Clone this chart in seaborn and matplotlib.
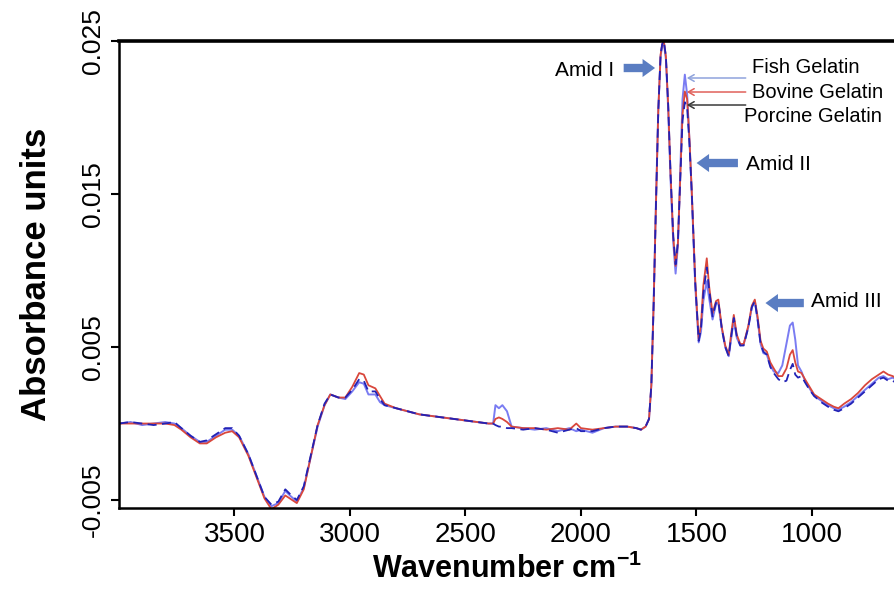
import matplotlib
matplotlib.use("Agg")
import matplotlib.pyplot as plt
import seaborn as sns
import pandas as pd
import numpy as np

# ---------------- data ----------------
wavenumber = [4000, 3950, 3900, 3850, 3800, 3760, 3730, 3690, 3650, 3620, 3580, 3540, 3510,
              3480, 3440, 3400, 3370, 3340, 3310, 3280, 3260, 3230, 3200, 3170, 3140, 3110,
              3085, 3050, 3020, 2990, 2960, 2940, 2920, 2890, 2870, 2850, 2800, 2750, 2700,
              2650, 2600, 2550, 2500, 2450, 2400, 2380, 2370, 2355, 2340, 2320, 2300, 2250,
              2200, 2150, 2100, 2050, 2020, 2000, 1950, 1900, 1850, 1800, 1760, 1740, 1720,
              1705, 1695, 1685, 1675, 1665, 1655, 1648, 1641, 1632, 1622, 1612, 1600, 1590,
              1580, 1570, 1560, 1550, 1540, 1530, 1520, 1505, 1490, 1480, 1470, 1455, 1445,
              1430, 1415, 1405, 1390, 1375, 1360, 1350, 1338, 1325, 1310, 1295, 1275, 1260,
              1247, 1235, 1222, 1210, 1195, 1180, 1165, 1145, 1128, 1110, 1095, 1083, 1072,
              1060, 1045, 1030, 1010, 990, 960, 930, 905, 885, 860, 830, 800, 770, 740, 710,
              690, 670, 650, 640]

fish = [0.0000, 0.0001, -0.0001, 0.0000, 0.0001, 0.0000, -0.0003, -0.0008, -0.0012, -0.0012,
        -0.0008, -0.0004, -0.0004, -0.0008, -0.0020, -0.0036, -0.0048, -0.0054, -0.0052,
        -0.0044, -0.0047, -0.0051, -0.0042, -0.0022, -0.0002, 0.0012, 0.0019, 0.0017, 0.0016,
        0.0021, 0.0027, 0.0026, 0.0019, 0.0019, 0.0014, 0.0012, 0.0010, 0.0008, 0.0006,
        0.0005, 0.0004, 0.0003, 0.0002, 0.0001, 0.0000, 0.0000, 0.0012, 0.0010, 0.0012,
        0.0008, -0.0002, -0.0003, -0.0004, -0.0003, -0.0005, -0.0003, -0.0005, -0.0004,
        -0.0006, -0.0003, -0.0002, -0.0002, -0.0003, -0.0004, -0.0002,
        0.0003, 0.0025, 0.0080, 0.0145, 0.0205, 0.0240, 0.0247, 0.0249, 0.0238, 0.0205,
        0.0160, 0.0118, 0.0098, 0.0116, 0.0165, 0.0212, 0.0228, 0.0215, 0.0185, 0.0150,
        0.0090, 0.0053, 0.0060, 0.0080, 0.0093, 0.0082, 0.0068, 0.0078, 0.0079, 0.0062,
        0.0050, 0.0044, 0.0055, 0.0068, 0.0056, 0.0051, 0.0052, 0.0063, 0.0076, 0.0080,
        0.0068, 0.0052, 0.0046, 0.0045, 0.0038, 0.0034, 0.0033, 0.0038, 0.0052, 0.0064,
        0.0066, 0.0055, 0.0038, 0.0034, 0.0028, 0.0023, 0.0018, 0.0015, 0.0012, 0.0010,
        0.0009, 0.0011, 0.0014, 0.0018, 0.0022, 0.0026, 0.0030, 0.0031, 0.0029, 0.0030,
        0.0029]

bovine = [0.0000, 0.0000, 0.0000, 0.0000, 0.0000, -0.0001, -0.0004, -0.0009, -0.0013, -0.0013,
          -0.0009, -0.0006, -0.0005, -0.0009, -0.0021, -0.0037, -0.0049, -0.0056, -0.0053,
          -0.0047, -0.0049, -0.0052, -0.0043, -0.0022, -0.0001, 0.0012, 0.0019, 0.0017, 0.0017,
          0.0024, 0.0033, 0.0032, 0.0025, 0.0023, 0.0018, 0.0013, 0.0010, 0.0008, 0.0006,
          0.0005, 0.0004, 0.0003, 0.0002, 0.0001, 0.0000, 0.0000, 0.0003, 0.0004, 0.0003,
          0.0001, -0.0002, -0.0003, -0.0003, -0.0004, -0.0003, -0.0004, 0.0000, -0.0003,
          -0.0004, -0.0003, -0.0002, -0.0002, -0.0003, -0.0004, -0.0002,
          0.0003, 0.0025, 0.0078, 0.0143, 0.0204, 0.0241, 0.0248, 0.0250, 0.0240, 0.0208,
          0.0164, 0.0122, 0.0103, 0.0118, 0.0160, 0.0202, 0.0217, 0.0212, 0.0186, 0.0152,
          0.0094, 0.0055, 0.0065, 0.0090, 0.0108, 0.0090, 0.0072, 0.0080, 0.0081, 0.0063,
          0.0051, 0.0045, 0.0058, 0.0071, 0.0058, 0.0052, 0.0052, 0.0064, 0.0077, 0.0081,
          0.0070, 0.0054, 0.0049, 0.0047, 0.0040, 0.0036, 0.0031, 0.0031, 0.0036, 0.0045,
          0.0048, 0.0040, 0.0034, 0.0033, 0.0029, 0.0024, 0.0019, 0.0016, 0.0013, 0.0011,
          0.0010, 0.0013, 0.0016, 0.0020, 0.0025, 0.0029, 0.0032, 0.0034, 0.0032, 0.0031,
          0.0030]

porcine = [0.0000, 0.0001, 0.0000, -0.0001, 0.0000, 0.0001, -0.0003, -0.0008, -0.0012, -0.0011,
           -0.0007, -0.0003, -0.0003, -0.0008, -0.0020, -0.0036, -0.0048, -0.0053, -0.0051,
           -0.0043, -0.0046, -0.0050, -0.0041, -0.0021, -0.0001, 0.0013, 0.0019, 0.0017, 0.0017,
           0.0022, 0.0029, 0.0028, 0.0021, 0.0021, 0.0016, 0.0012, 0.0010, 0.0008, 0.0006,
           0.0005, 0.0004, 0.0003, 0.0002, 0.0001, 0.0000, 0.0000, -0.0001, -0.0002, -0.0002,
           -0.0003, -0.0003, -0.0004, -0.0003, -0.0004, -0.0006, -0.0004, -0.0003, -0.0005,
           -0.0005, -0.0003, -0.0002, -0.0002, -0.0003, -0.0004, -0.0002,
           0.0003, 0.0025, 0.0078, 0.0143, 0.0204, 0.0241, 0.0248, 0.0250, 0.0240, 0.0208,
           0.0164, 0.0122, 0.0104, 0.0119, 0.0158, 0.0198, 0.0210, 0.0206, 0.0183, 0.0151,
           0.0092, 0.0054, 0.0062, 0.0085, 0.0102, 0.0088, 0.0070, 0.0079, 0.0080, 0.0062,
           0.0050, 0.0044, 0.0056, 0.0069, 0.0057, 0.0051, 0.0051, 0.0063, 0.0076, 0.0080,
           0.0068, 0.0052, 0.0047, 0.0045, 0.0037, 0.0033, 0.0029, 0.0027, 0.0028, 0.0035,
           0.0039, 0.0032, 0.0030, 0.0031, 0.0027, 0.0022, 0.0018, 0.0014, 0.0011, 0.0009,
           0.0008, 0.0010, 0.0013, 0.0017, 0.0021, 0.0025, 0.0029, 0.0030, 0.0028, 0.0028,
           0.0027]

y_ticks = [-0.005, 0.005, 0.015, 0.025]
y_tick_labels = ["-0.005", "0.005", "0.015", "0.025"]
x_ticks = [3500, 3000, 2500, 2000, 1500, 1000]
x_tick_labels = ["3500", "3000", "2500", "2000", "1500", "1000"]

# ---------------- styling ----------------
sns.set_theme(style="white")
plt.rcParams["font.family"] = ["Liberation Sans", "DejaVu Sans"]
plt.rcParams["mathtext.fontset"] = "custom"
plt.rcParams["mathtext.rm"] = "Liberation Sans:bold"
plt.rcParams["mathtext.bf"] = "Liberation Sans:bold"
plt.rcParams["mathtext.default"] = "bf"
for key in ["text.color", "axes.labelcolor", "xtick.color", "ytick.color"]:
    plt.rcParams[key] = "black"

df = pd.DataFrame({"Wavenumber": wavenumber, "Fish Gelatin": fish,
                   "Bovine Gelatin": bovine, "Porcine Gelatin": porcine})

fig = plt.figure(figsize=(8.95, 5.92), dpi=100)
ax = fig.add_axes([119 / 895, 1 - 508 / 592, 1 - 119 / 895, (508 - 41) / 592])

sns.lineplot(data=df, x="Wavenumber", y="Fish Gelatin", ax=ax, color="#7a7cf2", lw=1.4, sort=False)
sns.lineplot(data=df, x="Wavenumber", y="Bovine Gelatin", ax=ax, color="#d9473c", lw=1.3, sort=False)
sns.lineplot(data=df, x="Wavenumber", y="Porcine Gelatin", ax=ax, color="#2222b5", lw=1.3,
             sort=False, linestyle=(0, (5, 3)))

ax.set_xlim(4000, 640)
ax.set_ylim(-0.00552, 0.025)
ax.set_xticks(x_ticks)
ax.set_xticklabels(x_tick_labels, fontsize=20)
ax.set_yticks(y_ticks)
ax.set_yticklabels(y_tick_labels, fontsize=19, rotation=90, va="center")

for s in ["left", "bottom", "top"]:
    ax.spines[s].set_color("black")
    ax.spines[s].set_linewidth(1.8)
ax.spines["top"].set_linewidth(2.6)
ax.spines["right"].set_visible(False)
ax.tick_params(axis="both", direction="out", length=6, width=1.5, color="black",
               labelcolor="black", bottom=True, left=True, pad=4)

ax.set_xlabel(r"Wavenumber cm$^{-1}$", fontsize=22, fontweight="bold", labelpad=4, color="black")
ax.set_ylabel("Absorbance units", fontsize=25, fontweight="bold", labelpad=20, color="black")

# ---------------- annotations ----------------
block = dict(arrowstyle="simple,head_length=0.9,head_width=1.3,tail_width=0.6",
             color="#5a7dc2", lw=0, mutation_scale=10)

def px2w(px):
    return 3500 - (px - 233) / 0.2313

def py2v(py):
    return 0.025 - (py - 41) / 15300

ax.annotate("", xy=(px2w(657), py2v(68)), xytext=(px2w(620), py2v(68)), arrowprops=block)
ax.text(px2w(613), py2v(70), "Amid I", fontsize=15, ha="right", va="center", color="black")

ax.annotate("", xy=(px2w(693), py2v(163)), xytext=(px2w(740), py2v(163)), arrowprops=block)
ax.text(px2w(745), py2v(164), "Amid II", fontsize=15, ha="left", va="center", color="black")

ax.annotate("", xy=(px2w(762), py2v(303)), xytext=(px2w(806), py2v(303)), arrowprops=block)
ax.text(px2w(810), py2v(301), "Amid III", fontsize=15, ha="left", va="center", color="black")

thin = lambda c: dict(arrowstyle="->,head_length=0.35,head_width=0.2", color=c, lw=1.1,
                      shrinkA=0, shrinkB=0)
ax.annotate("", xy=(px2w(686), py2v(78)), xytext=(px2w(745), py2v(78)), arrowprops=thin("#8fa3dc"))
ax.annotate("", xy=(px2w(686), py2v(92)), xytext=(px2w(745), py2v(92)), arrowprops=thin("#e0605a"))
ax.annotate("", xy=(px2w(686), py2v(105)), xytext=(px2w(745), py2v(105)), arrowprops=thin("#3a3a3a"))
ax.text(px2w(751), py2v(67), "Fish Gelatin", fontsize=14.5, ha="left", va="center", color="black")
ax.text(px2w(751), py2v(92), "Bovine Gelatin", fontsize=14.5, ha="left", va="center", color="black")
ax.text(px2w(743), py2v(116), "Porcine Gelatin", fontsize=14.5, ha="left", va="center", color="black")

fig.savefig("out.png", dpi=100)
